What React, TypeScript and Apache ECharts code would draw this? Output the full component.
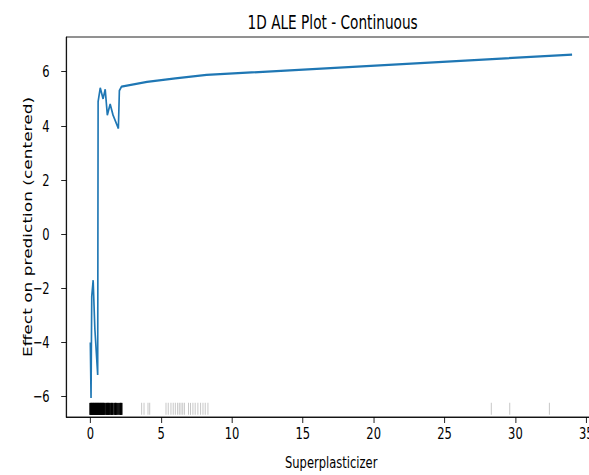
import React, { useEffect, useRef } from "react";
import * as echarts from "echarts";

// The reference image is horizontally compressed; reproduce by drawing wider and scaling X.
const SX = 0.72;
const W = Math.round(589 / SX);
const H = 475;
const FONT = "DejaVu Sans";

const titleText = "1D ALE Plot - Continuous";
const xName = "Superplasticizer";
const yName = "Effect on prediction (centered)";

const aleX = [0, 0.05, 0.1, 0.2, 0.32, 0.52, 0.55, 0.7, 0.9, 1.05, 1.2, 1.4, 1.6, 1.98, 2.05, 2.2, 4.0, 6.0, 8.2, 34.0];
const aleY = [-4.0, -6.05, -2.3, -1.7, -3.5, -5.2, 4.9, 5.4, 5.0, 5.35, 4.4, 4.8, 4.4, 3.9, 5.3, 5.45, 5.62, 5.75, 5.88, 6.63];

const rugDense = [
  0, 0.05, 0.1, 0.15, 0.2, 0.25, 0.3, 0.35, 0.4, 0.45, 0.5, 0.55, 0.6, 0.65, 0.7, 0.75, 0.8, 0.85, 0.9, 0.95,
  1.0, 1.12, 1.18, 1.25, 1.3, 1.35, 1.47, 1.52, 1.58, 1.72, 1.78, 1.82, 1.95, 2.1, 2.15, 2.2,
];
const rugSparse = [
  3.62, 3.79, 4.07, 4.19, 5.34, 5.5, 5.69, 5.85, 6.0, 6.16, 6.28, 6.4, 6.52, 6.64, 6.93, 7.07, 7.24, 7.4, 7.59,
  7.78, 7.95, 8.11, 8.3, 28.3, 29.6, 32.4,
];
const rugLevel = -6.45;

const xTicks = [0, 5, 10, 15, 20, 25, 30, 35];
const yTicks = [-6, -4, -2, 0, 2, 4, 6];
const xRange = [-1.7, 35.7];
const yRange = [-6.75, 7.28];

const fmt = (v: number) => (v < 0 ? "\u2212" + Math.abs(v) : String(v));

export default function App() {
  const ref = useRef<HTMLDivElement>(null);
  useEffect(() => {
    if (!ref.current) return;
    const chart = echarts.init(ref.current, null, { renderer: "svg", width: W, height: H });
    const axisCommon = {
      axisLine: { show: true, onZero: false, lineStyle: { color: "#000", width: 1 } },
      splitLine: { show: false },
    };
    chart.setOption({
      animation: false,
      backgroundColor: "#fff",
      title: {
        text: titleText,
        left: 457,
        top: 8,
        textAlign: "center",
        textStyle: { fontFamily: FONT, fontSize: 19, fontWeight: "normal", color: "#000" },
      },
      grid: {
        left: 92,
        top: 37,
        width: 736,
        height: 380,
        show: true,
        borderColor: "#000",
        borderWidth: 1,
        containLabel: false,
        outerBoundsMode: "none",
      },
      xAxis: {
        type: "value",
        min: xRange[0],
        max: xRange[1],
        ...axisCommon,
        axisTick: { show: true, inside: false, length: 6, customValues: xTicks, lineStyle: { color: "#000" } },
        axisLabel: {
          customValues: xTicks,
          formatter: fmt,
          margin: 8,
          fontFamily: FONT,
          fontSize: 16,
          color: "#000",
        },
        name: xName,
        nameLocation: "middle",
        nameGap: 37,
        nameMoveOverlap: false,
        nameTextStyle: { fontFamily: FONT, fontSize: 16, color: "#000" },
      },
      yAxis: {
        type: "value",
        min: yRange[0],
        max: yRange[1],
        ...axisCommon,
        axisTick: { show: true, inside: false, length: 7, customValues: yTicks, lineStyle: { color: "#000" } },
        axisLabel: {
          customValues: yTicks,
          formatter: fmt,
          margin: 23,
          fontFamily: FONT,
          fontSize: 16,
          color: "#000",
        },
        name: yName,
        nameLocation: "middle",
        nameRotate: 90,
        nameGap: 46,
        nameMoveOverlap: false,
        nameTextStyle: { fontFamily: FONT, fontSize: 17, color: "#000" },
      },
      series: [
        {
          type: "scatter",
          data: rugDense.map((x) => [x, rugLevel]),
          symbol: "rect",
          symbolSize: [3, 12],
          itemStyle: { color: "#000", opacity: 0.9 },
          silent: true,
          z: 1,
        },
        {
          type: "scatter",
          data: rugSparse.map((x) => [x, rugLevel]),
          symbol: "rect",
          symbolSize: [1.4, 12],
          itemStyle: { color: "#000", opacity: 0.22 },
          silent: true,
          z: 1,
        },
        {
          type: "line",
          data: aleX.map((x, i) => [x, aleY[i]]),
          showSymbol: false,
          symbol: "none",
          lineStyle: { color: "#1f77b4", width: 2.3 },
          z: 3,
        },
      ],
    });
    return () => chart.dispose();
  }, []);
  return (
    <div
      style={{
        position: "fixed",
        left: 0,
        top: 0,
        width: 589,
        height: 475,
        overflow: "hidden",
        background: "#fff",
      }}
    >
      <div
        ref={ref}
        style={{ width: W, height: H, transform: `scaleX(${SX})`, transformOrigin: "0 0" }}
      />
    </div>
  );
}
